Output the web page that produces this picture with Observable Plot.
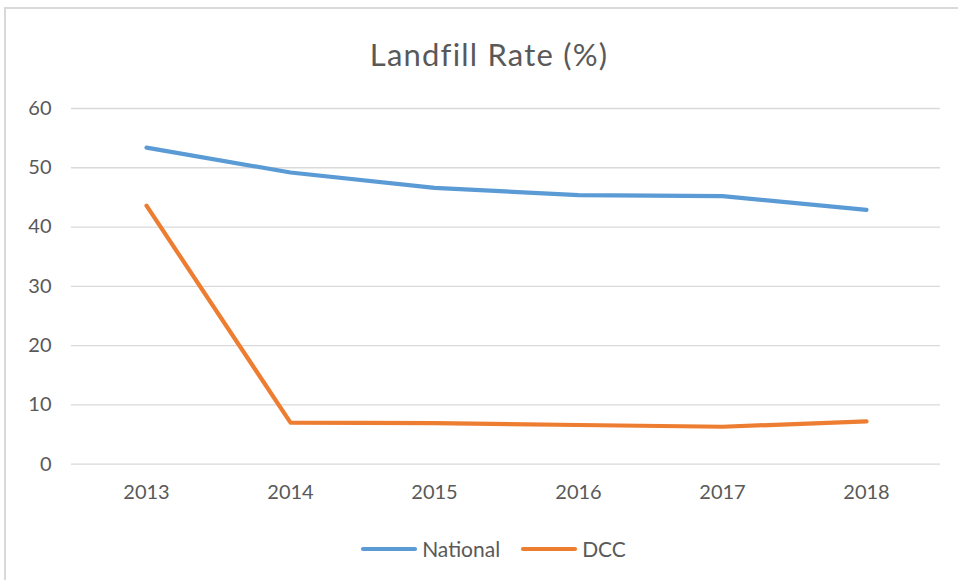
<!DOCTYPE html>
<html>
<head>
<meta charset="utf-8">
<script src="https://cdn.jsdelivr.net/npm/d3@7"></script>
<script src="https://cdn.jsdelivr.net/npm/@observablehq/plot@0.6"></script>
<style>
  body { margin: 0; background: #fff; font-family: Lato, "Open Sans", sans-serif; }
  #frame { position: absolute; left: 4px; top: 7px; width: 970px; height: 590px; border: 2px solid #d9d9d9; box-sizing: border-box; }
  #title { position: absolute; left: 0; width: 978px; top: 34px; text-align: center; font-size: 31px; letter-spacing: 1.2px; color: #595959; line-height: 40px; }
  #chart { position: absolute; left: 0; top: 80px; }
  #legend { position: absolute; left: 0; width: 986px; top: 531px; text-align: center; font-size: 21px; color: #595959; line-height: 28px; }
  #legend span.item { display: inline-flex; align-items: center; margin: 0 10px; }
  #legend svg { margin-right: 4px; }
</style>
</head>
<body>
<div id="frame"></div>
<div id="title">Landfill Rate (%)</div>
<div id="chart"></div>
<div id="legend"></div>
<script>
const years = ["2013", "2014", "2015", "2016", "2017", "2018"];
const national = [53.4, 49.2, 46.6, 45.4, 45.2, 42.9];
const dcc = [43.6, 7.0, 6.9, 6.6, 6.3, 7.2];
const seriesNames = ["National", "DCC"];
const seriesColors = ["#5B9BD5", "#ED7D31"];
const yTicks = [0, 10, 20, 30, 40, 50, 60];

const rows = [];
years.forEach((yr, i) => {
  rows.push({year: yr, value: national[i], series: "National"});
  rows.push({year: yr, value: dcc[i], series: "DCC"});
});

const plot = Plot.plot({
  width: 958,
  height: 440,
  marginTop: 28,
  marginBottom: 56.4,
  marginLeft: 71,
  marginRight: 18,
  style: {fontFamily: "Lato, 'Open Sans', sans-serif", fontSize: "20px", color: "#595959", background: "transparent", overflow: "visible"},
  x: {type: "point", domain: years, padding: 0.5, label: null},
  y: {domain: [0, 60], ticks: yTicks, label: null},
  color: {domain: seriesNames, range: seriesColors},
  marks: [
    Plot.gridY(yTicks, {stroke: "#d9d9d9", strokeOpacity: 1, strokeWidth: 1.3}),
    Plot.axisY(yTicks, {tickSize: 0, tickPadding: 20, fill: "#595959", fontSize: 20, label: null}),
    Plot.axisX({tickSize: 0, tickPadding: 21, fill: "#595959", fontSize: 20, label: null}),
    Plot.line(rows, {x: "year", y: "value", z: "series", stroke: "series", strokeWidth: 4.2, strokeLinecap: "round", strokeLinejoin: "round"})
  ]
});
document.getElementById("chart").appendChild(plot);

const legend = document.getElementById("legend");
seriesNames.forEach((name, i) => {
  const item = document.createElement("span");
  item.className = "item";
  item.innerHTML = `<svg width="58" height="8"><line x1="3" x2="55" y1="4" y2="4" stroke="${seriesColors[i]}" stroke-width="4.2" stroke-linecap="round"/></svg>${name}`;
  legend.appendChild(item);
});
</script>
</body>
</html>
